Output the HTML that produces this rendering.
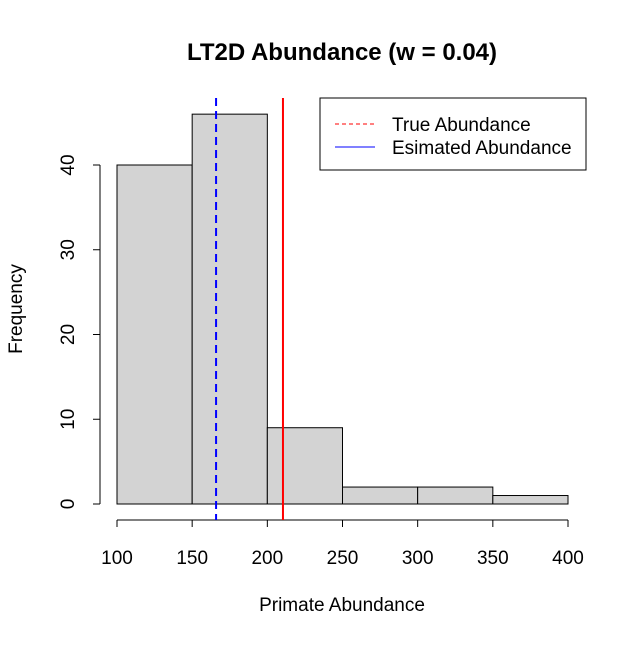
<!DOCTYPE html>
<html><head><meta charset="utf-8"><style>
body{margin:0;background:#fff}
text{font-family:"Liberation Sans",Arial,sans-serif}
</style></head><body>
<svg id="c" width="637" height="643" xmlns="http://www.w3.org/2000/svg"></svg>
<script>
const binEdges=[100,150,200,250,300,350,400];
const counts=[40,46,9,2,2,1];
const xTicks=[100,150,200,250,300,350,400];
const yTicks=[0,10,20,30,40];
const trueAbundance=210.4;
const estAbundance=165.9;
const NS="http://www.w3.org/2000/svg";
const svg=document.getElementById('c');
const xs=v=>117+(v-100)*(451/300);
const ys=v=>504-v*(339/40);
function mk(t,a,txt){const e=document.createElementNS(NS,t);for(const k in a)e.setAttribute(k,a[k]);if(txt!==undefined)e.textContent=txt;svg.appendChild(e);return e;}
let e;
e=mk('text',{x:342,y:60,'text-anchor':'middle','font-size':24,'font-weight':'bold'},'LT2D Abundance (w = 0.04)');


for(let i=0;i<counts.length;i++){
 e=mk('rect',{x:xs(binEdges[i]),y:ys(counts[i]),width:xs(binEdges[i+1])-xs(binEdges[i]),height:ys(0)-ys(counts[i]),fill:'#d3d3d3',stroke:'#000','stroke-width':1});
 
 
}
e=mk('line',{x1:xs(xTicks[0]),x2:xs(xTicks[xTicks.length-1]),y1:520,y2:520,stroke:'#000'});


xTicks.forEach(t=>{
 mk('line',{x1:xs(t),x2:xs(t),y1:520,y2:527,stroke:'#000'});
 e=mk('text',{x:xs(t),y:564,'text-anchor':'middle','font-size':19},t);
 
 
});
e=mk('line',{x1:100,x2:100,y1:ys(yTicks[0]),y2:ys(yTicks[yTicks.length-1]),stroke:'#000'});


yTicks.forEach(t=>{
 mk('line',{x1:100,x2:93,y1:ys(t),y2:ys(t),stroke:'#000'});
 e=mk('text',{x:0,y:0,'text-anchor':'middle','font-size':19,transform:`translate(74,${ys(t)}) rotate(-90)`},t);
 
 
});
e=mk('text',{x:342,y:611,'text-anchor':'middle','font-size':19},'Primate Abundance');


e=mk('text',{x:0,y:0,'text-anchor':'middle','font-size':19,transform:'translate(22,309) rotate(-90)'},'Frequency');


e=mk('line',{x1:xs(trueAbundance),x2:xs(trueAbundance),y1:98,y2:520,stroke:'#f00','stroke-width':2});


e=mk('line',{x1:xs(estAbundance),x2:xs(estAbundance),y1:98,y2:520,stroke:'#00f','stroke-width':2,'stroke-dasharray':'8,5'});


e=mk('rect',{x:320,y:98,width:266,height:72,fill:'#fff',stroke:'#000'});


e=mk('line',{x1:335,x2:375,y1:124,y2:124,stroke:'#f00','stroke-dasharray':'4,3'});


e=mk('text',{x:392,y:131,'font-size':19},'True Abundance');


e=mk('line',{x1:335,x2:375,y1:147,y2:147,stroke:'#00f'});


e=mk('text',{x:392,y:154,'font-size':19},'Esimated Abundance');


</script>
</body></html>
